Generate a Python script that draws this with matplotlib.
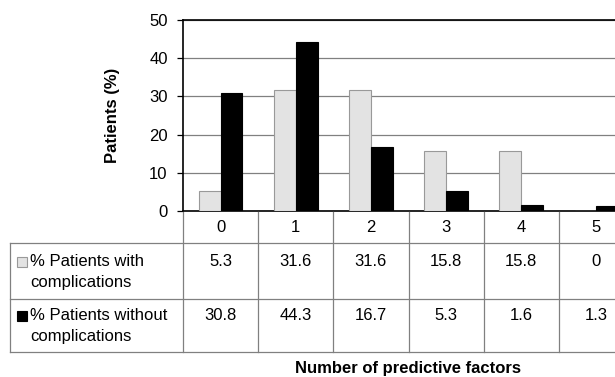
import numpy as np
import matplotlib.pyplot as plt
from matplotlib.patches import Rectangle

plt.rcParams['font.family'] = ['Liberation Sans', 'DejaVu Sans']

categories = ['0', '1', '2', '3', '4', '5']
with_compl = [5.3, 31.6, 31.6, 15.8, 15.8, 0]
without_compl = [30.8, 44.3, 16.7, 5.3, 1.6, 1.3]
series_names = ['% Patients with\ncomplications', '% Patients without\ncomplications']
series_colors = ['#e3e3e3', '#000000']
edge_colors = ['#999999', '#000000']

W, H = 615, 377
fig = plt.figure(figsize=(W / 100, H / 100), dpi=100)
fs = 12

# pixel layout (the chart runs off the right edge, like the original)
left, right, top, zero = 183, 634, 20, 211
cat_w = (right - left) / 6.0

ax = fig.add_axes([left / W, 1 - zero / H, (right - left) / W, (zero - top) / H])
x = np.arange(len(categories))
bw = 0.29
ax.bar(x - bw / 2, with_compl, bw, color=series_colors[0], edgecolor=edge_colors[0], linewidth=0.8, zorder=3)
ax.bar(x + bw / 2, without_compl, bw, color=series_colors[1], edgecolor=edge_colors[1], linewidth=0.8, zorder=3)
ax.set_xlim(-0.5, 5.5)
ax.set_ylim(0, 50)
ax.set_yticks(range(0, 51, 10))
ax.set_xticks([])
ax.yaxis.grid(True, color='#808080', linewidth=0.9, zorder=0)
ax.tick_params(axis='y', labelsize=fs, length=4, width=0.9, direction='out', pad=7)
for s in ['left', 'bottom', 'top']:
    ax.spines[s].set_color('black')
    ax.spines[s].set_linewidth(1.2)
ax.spines['right'].set_visible(False)

# data table below the axis
tbl_top, row1, row2, tbl_bot = 211, 243, 299, 352
lab_left = 10
tax = fig.add_axes([lab_left / W, 1 - tbl_bot / H, (right - lab_left) / W, (tbl_bot - tbl_top) / H])
x0 = -0.5 - (left - lab_left) / cat_w
tax.set_xlim(x0, 5.5)
tax.set_ylim(tbl_bot, tbl_top)
tax.axis('off')
lc = '#808080'
for k in range(len(categories) + 1):
    tax.plot([k - 0.5, k - 0.5], [tbl_top + 1, tbl_bot], color=lc, lw=0.9, clip_on=False)
tax.plot([x0, x0], [row1, tbl_bot], color=lc, lw=0.9, clip_on=False)
for yy in [row1, row2, tbl_bot]:
    tax.plot([x0, 5.5], [yy, yy], color=lc, lw=0.9, clip_on=False)

for i, c in enumerate(categories):
    tax.text(i, 228, c, ha='center', va='center', fontsize=fs)
    tax.text(i, 262, f'{with_compl[i]:g}', ha='center', va='center', fontsize=fs)
    tax.text(i, 316, f'{without_compl[i]:g}', ha='center', va='center', fontsize=fs)

for j, (name, yy) in enumerate(zip(series_names, [262, 316])):
    sq = 10 / cat_w
    tax.add_patch(Rectangle((x0 + 7 / cat_w, yy - 5), sq, 10, facecolor=series_colors[j],
                            edgecolor=edge_colors[j], lw=0.8, clip_on=False))
    tax.text(x0 + 20 / cat_w, yy - 8, name, ha='left', va='top', fontsize=fs, linespacing=1.5)

fig.text(408 / W, 1 - 368 / H, 'Number of predictive factors', ha='center', va='center',
         fontsize=fs, fontweight='bold')
fig.text(113 / W, 1 - 115 / H, 'Patients (%)', ha='center', va='center', rotation=90,
         fontsize=fs, fontweight='bold')

fig.savefig('out.png', dpi=100)
